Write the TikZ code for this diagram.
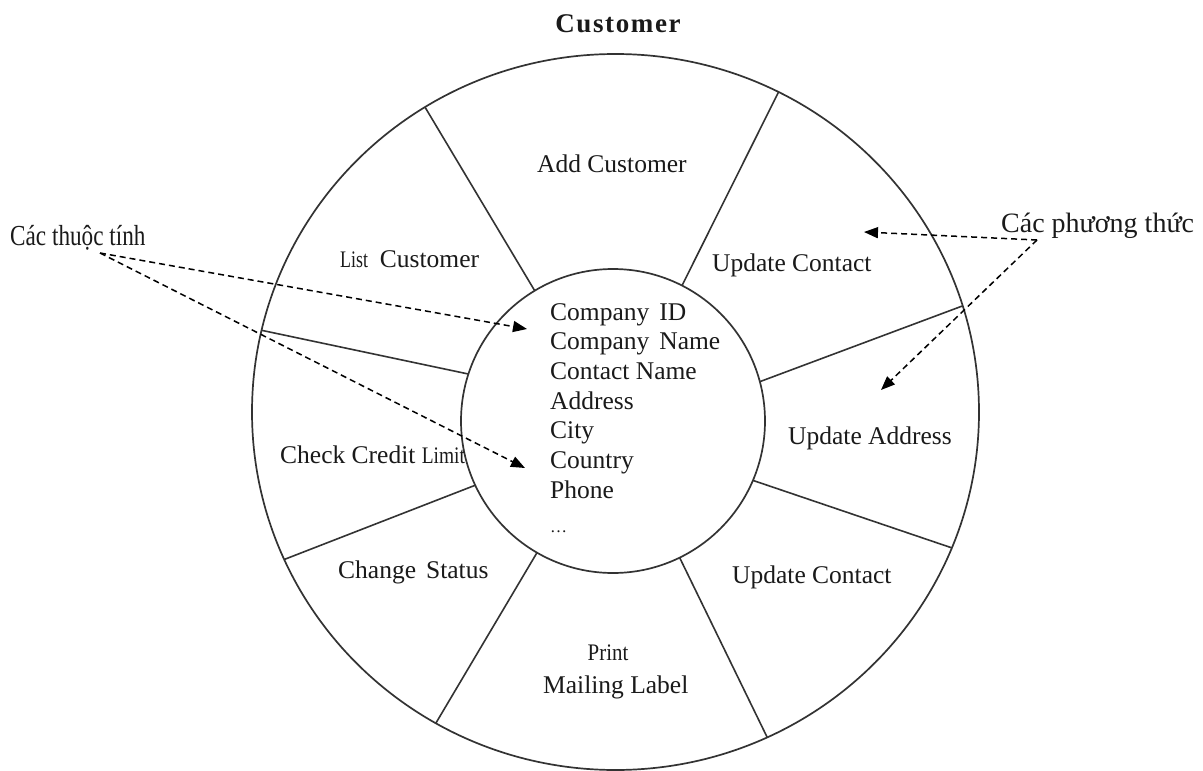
\documentclass[tikz,border=0pt]{standalone}
\usepackage{fontspec}
\setmainfont{Liberation Serif}
\usetikzlibrary{arrows.meta,shapes.geometric}
\definecolor{linegray}{HTML}{333333}
\definecolor{textblack}{HTML}{1A1A1A}
\newcommand\narrowword[2]{\scalebox{#1}[0.93]{#2}}
\begin{document}
\begin{tikzpicture}[x=1pt,y=-1pt,
  ring/.style={draw=linegray, line width=1.7pt, inner sep=0pt, outer sep=0pt},
  divider/.style={draw=linegray, line width=1.6pt},
  seglabel/.style={anchor=base west, inner sep=0pt, text=textblack, font=\fontsize{25.5}{29}\selectfont},
  callout/.style={anchor=base west, inner sep=0pt, text=textblack},
  pointer/.style={draw=black, line width=1.5pt, dash pattern=on 6pt off 4pt, -{Triangle[length=14pt,width=11pt]}}
]
\useasboundingbox (0,0) rectangle (1203,771);
\fill[white] (0,0) rectangle (1203,771);
\clip (0,0) rectangle (1203,771);

% title
\node[anchor=base, inner sep=0pt, text=textblack] (title) at (618,32)
  {\fontsize{27}{30}\selectfont\bfseries\addfontfeature{LetterSpace=6}Customer};

% rings
\node[ring, ellipse, minimum width=727pt, minimum height=716pt] (outer) at (615.5,412) {};
\node[ring, circle, minimum size=304pt] (inner) at (613,421) {};

% dividers
\draw[divider] (inner.121.8) -- (outer.122.3);
\draw[divider] (inner.63.8)  -- (outer.63.3);
\draw[divider] (inner.15.6)  -- (outer.17.7);
\draw[divider] (inner.-23.5) -- (outer.-22.0);
\draw[divider] (inner.-64.3) -- (outer.-65.2);
\draw[divider] (inner.-120.3) -- (outer.-120.7);
\draw[divider] (inner.-155.1) -- (outer.-156.9);
\draw[divider] (inner.162.8) -- (outer.167.7);

% segment labels
\node[seglabel] (addcust) at (537,172) {Add Customer};
\node[seglabel] (listcust) at (340,267) {\narrowword{0.7}{List}\hspace{12pt}Customer};
\node[seglabel] (updcontact1) at (712,271) {Update Contact};
\node[seglabel] (updaddress) at (788,444) {Update Address};
\node[seglabel] (checkcredit) at (280,463) {Check Credit \narrowword{0.76}{Limit}};
\node[seglabel] (changestatus) at (338,578) {Change\hspace{10pt}Status};
\node[seglabel] (updcontact2) at (732,583) {Update Contact};
\node[seglabel, anchor=base] (print) at (608,660) {\narrowword{0.82}{Print}};
\node[seglabel] (mailing) at (543,693) {Mailing Label};

% attributes
\foreach \t [count=\i] in {Company\hspace{10pt}ID, Company\hspace{10pt}Name, Contact Name, Address, City, Country, Phone} {
  \node[seglabel] (attr\i) at (550,{320+29.67*(\i-1)}) {\t};
}
\node[seglabel, font=\fontsize{17}{20}\selectfont] (attrdots) at (550,532) {…};

% callouts
\node[callout] (attrs) at (10,245) {\fontsize{29}{32}\selectfont\scalebox{0.8}[1]{Các thuộc tính}};
\node[callout] (meths) at (1001,232) {\fontsize{28}{32}\selectfont Các phương thức};

\coordinate (attrsrc) at (100,253);
\coordinate (attrtipA) at (527,329);
\coordinate (attrtipB) at (525,468);
\coordinate (methsrc) at (1037,240);
\coordinate (methtipA) at (864,232);
\coordinate (methtipB) at (881,390);

\draw[pointer] (attrsrc) -- (attrtipA);
\draw[pointer] (attrsrc) -- (attrtipB);
\draw[pointer] (methsrc) -- (methtipA);
\draw[pointer] (methsrc) -- (methtipB);
\end{tikzpicture}
\end{document}
